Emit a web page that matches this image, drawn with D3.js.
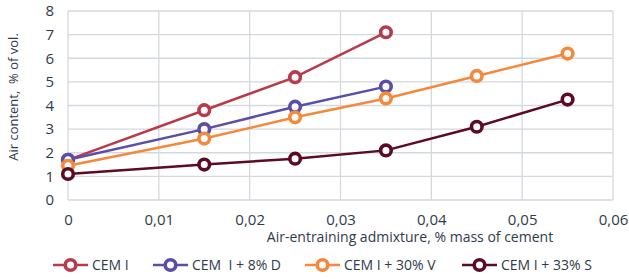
<!DOCTYPE html>
<html>
<head>
<meta charset="utf-8">
<script src="https://cdn.jsdelivr.net/npm/d3@7"></script>
<style>
  body { margin: 0; background: #fff; }
  text { font-family: "Open Sans", "Noto Sans", sans-serif; fill: #2f3b4c; }
</style>
</head>
<body>
<div id="chart"></div>
<script>
// x values (% mass of cement)
var xCem = [0, 0.015, 0.025, 0.035];
var xLong = [0, 0.015, 0.025, 0.035, 0.045, 0.055];
// air content, % of vol.
var cemI = [1.7, 3.8, 5.2, 7.1];
var cemD = [1.7, 3.0, 3.95, 4.8];
var cemV = [1.45, 2.6, 3.5, 4.3, 5.25, 6.2];
var cemS = [1.1, 1.5, 1.75, 2.1, 3.1, 4.25];

var seriesNames = ["CEM I", "CEM  I + 8% D", "CEM I + 30% V", "CEM I + 33% S"];
var colors = ["#b83b4b", "#5b4ea6", "#f5883a", "#5c0b24"];
var xTicks = [0, 0.01, 0.02, 0.03, 0.04, 0.05, 0.06];
var yTicks = [0, 1, 2, 3, 4, 5, 6, 7, 8];

var series = [
  {name: seriesNames[0], xs: xCem, ys: cemI},
  {name: seriesNames[1], xs: xCem, ys: cemD},
  {name: seriesNames[2], xs: xLong, ys: cemV},
  {name: seriesNames[3], xs: xLong, ys: cemS}
];

var W = 629, H = 279;
var margin = {top: 11, right: 16, bottom: 79, left: 68};
var width = W - margin.left - margin.right;
var height = H - margin.top - margin.bottom;

var svg = d3.select("#chart").append("svg")
    .attr("width", W)
    .attr("height", H);

var g = svg.append("g")
    .attr("transform", "translate(" + margin.left + "," + margin.top + ")");

var x = d3.scaleLinear().domain([0, 0.06]).range([0, width]);
var y = d3.scaleLinear().domain([0, 8]).range([height, 0]);

// grid
g.selectAll(".vgrid").data(xTicks).enter().append("line")
    .attr("x1", function(d) { return x(d); })
    .attr("x2", function(d) { return x(d); })
    .attr("y1", 0).attr("y2", height)
    .attr("stroke", "#d3d9de").attr("stroke-width", 1.3);
g.selectAll(".hgrid").data(yTicks).enter().append("line")
    .attr("y1", function(d) { return y(d); })
    .attr("y2", function(d) { return y(d); })
    .attr("x1", 0).attr("x2", width)
    .attr("stroke", "#d3d9de").attr("stroke-width", 1.3);

// axes (labels only)
var fmt = function(d) { return d === 0 ? "0" : d3.format(".2f")(d).replace(".", ","); };
var xAxis = g.append("g")
    .attr("transform", "translate(0," + height + ")")
    .call(d3.axisBottom(x).tickValues(xTicks).tickFormat(fmt).tickSize(0).tickPadding(14));
var yAxis = g.append("g")
    .call(d3.axisLeft(y).tickValues(yTicks).tickSize(0).tickPadding(14));
[xAxis, yAxis].forEach(function(a) {
  a.select(".domain").remove();
  a.selectAll("text").style("font-size", "15px")
    .style("font-family", "'Open Sans', sans-serif").attr("fill", "#2f3b4c");
});

// lines and markers
var line = d3.line()
    .x(function(d) { return x(d[0]); })
    .y(function(d) { return y(d[1]); });

series.forEach(function(s, i) {
  var pts = s.xs.map(function(v, j) { return [v, s.ys[j]]; });
  g.append("path")
    .datum(pts)
    .attr("d", line)
    .attr("fill", "none")
    .attr("stroke", colors[i])
    .attr("stroke-width", 2.5);
  g.selectAll(".m" + i).data(pts).enter().append("circle")
    .attr("cx", function(d) { return x(d[0]); })
    .attr("cy", function(d) { return y(d[1]); })
    .attr("r", 5.3)
    .attr("fill", "#fff")
    .attr("stroke", colors[i])
    .attr("stroke-width", 3.6);
});

// axis titles
svg.append("text")
    .attr("x", 410).attr("y", 242)
    .attr("text-anchor", "middle")
    .style("font-size", "14px")
    .text("Air-entraining admixture, % mass of cement");
svg.append("text")
    .attr("transform", "translate(18,97) rotate(-90)")
    .attr("text-anchor", "middle")
    .style("font-size", "13px")
    .style("white-space", "pre")
    .text("Air content,  % of vol.");

// legend
var legendX = [53, 153, 305, 462];
var legend = svg.selectAll(".legend").data(series).enter().append("g")
    .attr("transform", function(d, i) { return "translate(" + legendX[i] + ",265)"; });
legend.append("line")
    .attr("x1", 0).attr("x2", 35)
    .attr("stroke", function(d, i) { return colors[i]; })
    .attr("stroke-width", 2.5);
legend.append("circle")
    .attr("cx", 17.5).attr("r", 5.3)
    .attr("fill", "#fff")
    .attr("stroke", function(d, i) { return colors[i]; })
    .attr("stroke-width", 3.6);
legend.append("text")
    .attr("x", 39).attr("dy", "0.35em")
    .style("font-size", "14px")
    .style("white-space", "pre")
    .text(function(d) { return d.name; });
</script>
</body>
</html>
